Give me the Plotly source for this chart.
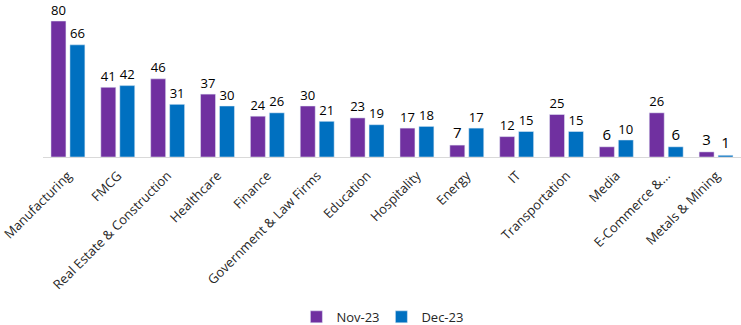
import plotly.graph_objects as go

categories = ["Manufacturing", "FMCG", "Real Estate & Construction", "Healthcare", "Finance",
              "Government & Law Firms", "Education", "Hospitality", "Energy", "IT",
              "Transportation", "Media", "E-Commerce &...", "Metals & Mining"]
nov_23 = [80, 41, 46, 37, 24, 30, 23, 17, 7, 12, 25, 6, 26, 3]
dec_23 = [66, 42, 31, 30, 26, 21, 19, 18, 17, 15, 15, 10, 6, 1]

font_family = "Open Sans, Lato, sans-serif"

fig = go.Figure()
fig.add_trace(go.Bar(x=categories, y=nov_23, name="Nov-23", marker_color="#7030A0",
                     text=nov_23, textposition="outside", cliponaxis=False,
                     textfont=dict(size=15, color="#000000", family=font_family)))
fig.add_trace(go.Bar(x=categories, y=dec_23, name="Dec-23", marker_color="#0070C0",
                     text=dec_23, textposition="outside", cliponaxis=False,
                     textfont=dict(size=15, color="#000000", family=font_family)))

fig.update_layout(
    width=741, height=325,
    margin=dict(l=40, r=0, t=10, b=168),
    barmode="group", bargap=0.24, bargroupgap=0.21,
    plot_bgcolor="white", paper_bgcolor="white",
    font=dict(family=font_family, color="#262626"),
    showlegend=True,
    legend=dict(orientation="h", xref="container", x=0.40, xanchor="left",
                yref="container", y=0.025, yanchor="middle",
                font=dict(size=13, color="#262626"),
                itemwidth=30, entrywidth=40, entrywidthmode="pixels", traceorder="normal"),
    uniformtext=dict(minsize=10),
)
fig.update_xaxes(tickangle=-45, showline=True, linecolor="#d9d9d9", linewidth=1,
                 ticks="", ticklabelstandoff=5,
                 tickfont=dict(size=13, color="#262626"), showgrid=False)
fig.update_yaxes(visible=False, range=[0, 86.5], showgrid=False)

fig.write_html("out.html")
